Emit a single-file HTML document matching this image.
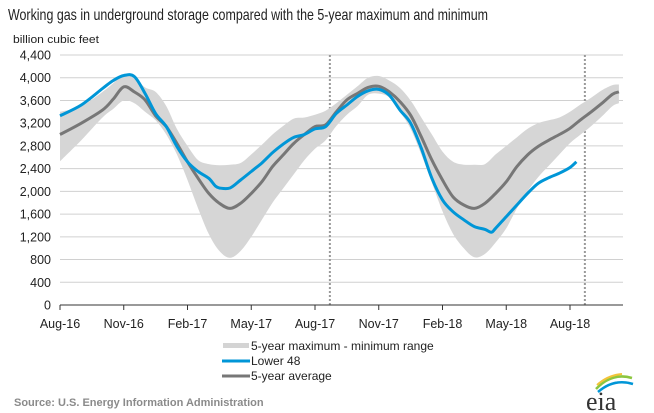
<!DOCTYPE html>
<html><head><meta charset="utf-8"><style>
body{margin:0;background:#fff;}
svg{display:block;font-family:"Liberation Sans",Arial,sans-serif;}
</style></head><body>
<svg id="chart" width="654" height="413" viewBox="0 0 654 413">
<text x="8" y="20" font-size="16" fill="#222" textLength="480" lengthAdjust="spacingAndGlyphs">Working gas in underground  storage compared with the 5-year maximum  and minimum</text>
<text x="13" y="43" font-size="11" fill="#222" textLength="86" lengthAdjust="spacingAndGlyphs">billion cubic feet</text>
<g id="grid"></g><g id="band"></g><g id="lines"></g><g id="axes"></g>
<g>
<rect x="223" y="343" width="26" height="5" fill="#d4d4d4"/>
<text x="251" y="350" font-size="12" fill="#222">5-year maximum - minimum range</text>
<line x1="222" y1="361" x2="250" y2="361" stroke="#0096d7" stroke-width="3"/>
<text x="251" y="365" font-size="12" fill="#222">Lower 48</text>
<line x1="222" y1="376" x2="250" y2="376" stroke="#777" stroke-width="3"/>
<text x="251" y="380" font-size="12" fill="#222">5-year average</text>
</g>
<text x="14" y="406" font-size="11" font-weight="bold" fill="#8a8a8a">Source:  U.S. Energy Information Administration</text>
<g>
<path d="M596 389 Q612 372 632 378" fill="none" stroke="#8cc63f" stroke-width="2.5"/>
<path d="M598 392 Q614 378 633 384" fill="none" stroke="#0096d7" stroke-width="2.5"/>
<path d="M597 385 Q608 375 622 374" fill="none" stroke="#f2c43a" stroke-width="2"/>
<text x="586" y="410" font-size="26" font-family="Liberation Serif,serif" fill="#333">eia</text>
</g>
</svg>
<script>
const months=[0,1,2,2.5,3,3.5,4,4.5,5,5.5,6,6.5,7,7.5,8,8.5,9,9.5,10,10.5,11,11.5,12,12.5,13,13.5,14,14.5,15,15.5,16,16.5,17,17.5,18,18.5,19,19.5,20,20.5,21,21.5,22,22.5,23,23.5,24,24.5,25,25.5,26,26.3];
const rangeMax=[3400,3500,3750,3900,4050,4000,3830,3750,3500,3100,2800,2550,2480,2460,2470,2500,2650,2820,3000,3150,3280,3300,3350,3420,3550,3700,3850,4000,4030,3950,3820,3600,3300,3000,2700,2520,2470,2470,2480,2650,2800,2950,3100,3200,3250,3300,3400,3530,3650,3780,3870,3880];
const rangeMin=[2530,2900,3300,3450,3600,3550,3400,3250,3000,2650,2200,1700,1250,950,830,950,1200,1500,1800,2050,2300,2550,2750,2900,3150,3350,3500,3700,3720,3650,3400,3100,2650,2150,1650,1250,1000,840,900,1100,1350,1700,2000,2250,2450,2650,2850,3000,3150,3320,3500,3550];
const avgValues=[3000,3200,3430,3620,3840,3750,3610,3330,3140,2845,2520,2230,1965,1790,1700,1790,1965,2170,2435,2640,2845,3000,3140,3170,3400,3610,3725,3830,3850,3750,3580,3340,2960,2550,2200,1900,1760,1700,1790,1965,2170,2435,2640,2790,2900,3000,3110,3260,3400,3550,3710,3750];
const lowerMonths=[0,1,2,2.5,3,3.5,4,4.5,5,5.5,6,6.5,7,7.3,7.5,8,8.5,9,9.5,10,10.5,11,11.5,12,12.5,13,13.5,14,14.5,15,15.5,16,16.5,17,17.5,18,18.5,19,19.5,20,20.3,20.5,21,21.5,22,22.5,23,23.5,24,24.3];
const lowerValues=[3330,3520,3810,3950,4040,4020,3725,3370,3140,2790,2520,2350,2230,2100,2060,2060,2200,2350,2500,2680,2830,2950,3000,3100,3140,3370,3520,3670,3770,3795,3690,3430,3200,2760,2230,1850,1640,1500,1380,1330,1280,1350,1555,1760,1965,2140,2240,2320,2420,2520];
const yTicks=[0,400,800,1200,1600,2000,2400,2800,3200,3600,4000,4400];
const xTickLabels=["Aug-16","Nov-16","Feb-17","May-17","Aug-17","Nov-17","Feb-18","May-18","Aug-18"];
const xTickMonths=[0,3,6,9,12,15,18,21,24];
const dividerMonths=[12.7,24.7];

const NS="http://www.w3.org/2000/svg";
const X0=60,PXM=21.25,Y0=305,YTOP=55,YMAX=4400,XR=623;
const xs=m=>X0+m*PXM;
const ys=v=>Y0-(v/YMAX)*(Y0-YTOP);
function mk(tag,attrs,parent){const e=document.createElementNS(NS,tag);for(const k in attrs)e.setAttribute(k,attrs[k]);parent.appendChild(e);return e;}
function smooth(pts,start){
  let d=start?'M'+pts[0][0].toFixed(1)+' '+pts[0][1].toFixed(1):'L'+pts[0][0].toFixed(1)+' '+pts[0][1].toFixed(1);
  for(let i=0;i<pts.length-1;i++){
    const p0=pts[Math.max(i-1,0)],p1=pts[i],p2=pts[i+1],p3=pts[Math.min(i+2,pts.length-1)];
    const c1=[p1[0]+(p2[0]-p0[0])/6,p1[1]+(p2[1]-p0[1])/6];
    const c2=[p2[0]-(p3[0]-p1[0])/6,p2[1]-(p3[1]-p1[1])/6];
    d+='C'+c1[0].toFixed(1)+' '+c1[1].toFixed(1)+' '+c2[0].toFixed(1)+' '+c2[1].toFixed(1)+' '+p2[0].toFixed(1)+' '+p2[1].toFixed(1);
  }
  return d;
}
const grid=document.getElementById('grid'),band=document.getElementById('band'),lines=document.getElementById('lines'),axes=document.getElementById('axes');
yTicks.forEach(v=>{
  if(v>0){const g=mk('line',{x1:X0,x2:XR,y1:ys(v),y2:ys(v),stroke:'#d0d0d0','stroke-width':1},grid);
  
  }
  const t=mk('text',{x:51,y:ys(v)+4.5,'font-size':12.5,'text-anchor':'end',fill:'#222'},axes);
  t.textContent=v.toLocaleString('en-US');
  
  
});
dividerMonths.forEach(m=>{
  const d=mk('line',{x1:xs(m),x2:xs(m),y1:YTOP,y2:Y0,stroke:'#999','stroke-width':2,'stroke-dasharray':'2,2'},grid);
  
  
});
const topPts=months.map((m,i)=>[xs(m),ys(rangeMax[i])]);
const botPts=months.map((m,i)=>[xs(m),ys(rangeMin[i])]).reverse();
const b=mk('path',{d:smooth(topPts,true)+smooth(botPts,false)+'Z',fill:'#d6d6d6'},band);


function line(ms,vs,color,name){
  const p=mk('path',{d:smooth(ms.map((m,i)=>[xs(m),ys(vs[i])]),true),fill:'none',stroke:color,'stroke-width':3,'stroke-linejoin':'round'},lines);
  
  
}
line(months,avgValues,'#777','average-line');
line(lowerMonths,lowerValues,'#0096d7','lower48-line');
const ax=mk('line',{x1:X0,x2:XR,y1:Y0,y2:Y0,stroke:'#333','stroke-width':1},axes);


xTickMonths.forEach((m,i)=>{
  const tk=mk('line',{x1:xs(m),x2:xs(m),y1:Y0,y2:Y0+5,stroke:'#333'},axes);
  
  
  const t=mk('text',{x:xs(m),y:Y0+23,'font-size':12.5,'text-anchor':'middle',fill:'#222'},axes);
  t.textContent=xTickLabels[i];
  
  
});
</script>
</body></html>
